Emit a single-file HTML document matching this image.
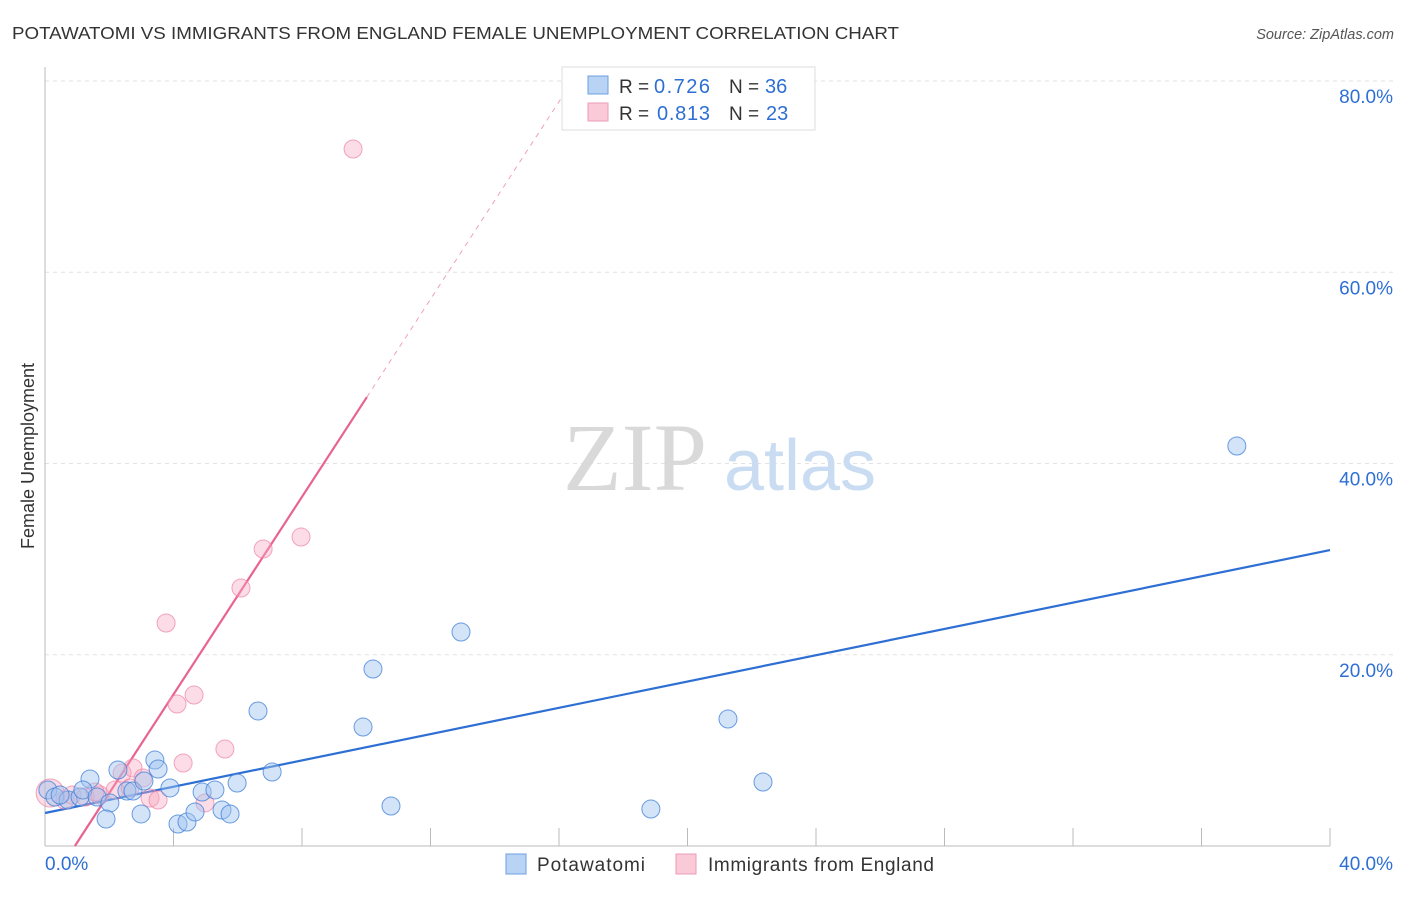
<!DOCTYPE html>
<html><head><meta charset="utf-8"><style>
body{margin:0;background:#fff;font-family:"Liberation Sans",sans-serif;}
</style></head><body>
<svg width="1406" height="892" xmlns="http://www.w3.org/2000/svg">
<text x="12" y="39" font-size="17.5" fill="#333" textLength="887" lengthAdjust="spacingAndGlyphs">POTAWATOMI VS IMMIGRANTS FROM ENGLAND FEMALE UNEMPLOYMENT CORRELATION CHART</text>
<text x="1394" y="39" font-size="14.5" fill="#555" text-anchor="end" font-style="italic">Source: ZipAtlas.com</text>
<g id="grid"></g>
<text x="635" y="490" font-size="96" fill="#d9d9d9" font-family="Liberation Serif,serif" text-anchor="middle">ZIP</text>
<text x="800" y="490" font-size="72" fill="#c9dcf2" text-anchor="middle">atlas</text>
<text transform="translate(34,456) rotate(-90)" font-size="18" fill="#333" text-anchor="middle">Female Unemployment</text>
<g id="lines"></g>
<g id="pts"></g>
<g>
<rect x="562" y="67" width="253" height="63" fill="#fff" stroke="#ddd"/>
<rect x="588" y="76" width="20" height="18" fill="#b9d3f5" stroke="#6d9ee0"/>
<rect x="588" y="103" width="20" height="18" fill="#fbcad8" stroke="#ee9bb5"/>
<text x="619" y="93" font-size="19" fill="#333">R =</text>
<text x="654" y="93" font-size="20" fill="#2e6fd4" textLength="56">0.726</text>
<text x="729" y="93" font-size="19" fill="#333">N =</text>
<text x="765" y="93" font-size="20" fill="#2e6fd4">36</text>
<text x="619" y="120" font-size="19" fill="#333">R =</text>
<text x="657" y="120" font-size="20" fill="#2e6fd4" textLength="53">0.813</text>
<text x="729" y="120" font-size="19" fill="#333">N =</text>
<text x="766" y="120" font-size="20" fill="#2e6fd4">23</text>
</g>
<g>
<rect x="506" y="854" width="20" height="20" fill="#b9d3f5" stroke="#6d9ee0"/>
<text x="537" y="871" font-size="19" fill="#333" textLength="108">Potawatomi</text>
<rect x="676" y="854" width="20" height="20" fill="#fbcad8" stroke="#ee9bb5"/>
<text x="708" y="871" font-size="19" fill="#333" textLength="226">Immigrants from England</text>
</g>
</svg>
<script>
const blueX=[0.09,0.31,0.72,1.09,1.40,1.18,1.62,2.02,1.90,2.27,2.55,2.74,2.99,3.08,3.42,3.52,3.89,4.14,4.42,4.67,4.89,5.29,5.51,5.76,5.98,6.63,7.07,9.90,10.21,10.77,12.95,18.86,21.26,22.35,37.10,0.47];
const blueY=[5.86,5.12,4.81,5.12,7.01,5.86,5.12,4.50,2.82,7.95,5.75,5.75,3.35,6.80,8.99,8.05,6.07,2.30,2.51,3.56,5.65,5.86,3.76,3.35,6.59,14.12,7.74,12.44,18.51,4.18,22.38,3.87,13.28,6.69,41.83,5.33];
const pinkX=[0.16,0.62,0.84,1.25,1.71,2.18,2.40,2.74,3.05,3.27,3.52,3.77,4.11,4.30,4.64,4.98,5.60,6.10,6.79,7.97,9.59,2.65,1.56];
const pinkY=[5.54,4.81,5.33,5.12,5.33,5.86,7.63,8.16,7.11,5.02,4.81,23.32,14.85,8.68,15.79,4.50,10.14,26.98,31.06,32.31,72.89,6.07,5.65];
const yTicks=[20,40,60,80];
const blueLine=[3.45,30.95]; // y at x=0 and x=40
const pinkLine=[0.93,5.165]; // x-intercept, slope
const sx=v=>45+v*32.125, sy=v=>846-v*9.5625;
const NS='http://www.w3.org/2000/svg';
function mk(t,a,p){const e=document.createElementNS(NS,t);for(const k in a)e.setAttribute(k,a[k]);p.appendChild(e);return e;}
const g=document.getElementById('grid');
yTicks.forEach(t=>{
 const l=mk('line',{x1:45,x2:1394,y1:sy(t),y2:sy(t),stroke:'#e2e2e2','stroke-dasharray':'4,4'},g);
 
 
 const tx=mk('text',{x:1393,y:sy(t)+22,'font-size':19,fill:'#2e6fd4','text-anchor':'end'},g);
 tx.textContent=t.toFixed(1)+'%';
 
 
});
mk('line',{x1:45,x2:45,y1:67,y2:846,stroke:'#bbb'},g);
mk('line',{x1:45,x2:1330,y1:846,y2:846,stroke:'#bbb'},g);
for(let i=1;i<=10;i++){mk('line',{x1:sx(i*4),x2:sx(i*4),y1:828,y2:846,stroke:'#bbb'},g);}
const x0=mk('text',{x:45,y:870,'font-size':19,fill:'#2e6fd4'},g);x0.textContent='0.0%';


const x1=mk('text',{x:1393,y:870,'font-size':19,fill:'#2e6fd4','text-anchor':'end'},g);x1.textContent='40.0%';


const P=document.getElementById('pts');
pinkX.forEach((x,i)=>{const c=mk('circle',{cx:sx(x),cy:sy(pinkY[i]),r:i==0?14:9,fill:'rgba(247,168,192,0.4)',stroke:'rgba(236,130,165,0.7)','stroke-width':1},P);
 
 });
blueX.forEach((x,i)=>{const c=mk('circle',{cx:sx(x),cy:sy(blueY[i]),r:9,fill:'rgba(160,196,240,0.45)',stroke:'rgba(60,125,215,0.75)','stroke-width':1},P);
 
 });
const L=document.getElementById('lines');
const bl=mk('line',{x1:sx(0),y1:sy(blueLine[0]),x2:sx(40),y2:sy(blueLine[1]),stroke:'#2e6fd4','stroke-width':2.2},L);


const py=x=>pinkLine[1]*(x-pinkLine[0]);
const xe=10.02, xt=pinkLine[0]+81/pinkLine[1];
const pl=mk('line',{x1:sx(pinkLine[0]),y1:sy(0),x2:sx(xe),y2:sy(py(xe)),stroke:'#e8648f','stroke-width':2.2},L);


const pd=mk('line',{x1:sx(xe),y1:sy(py(xe)),x2:sx(xt),y2:sy(81),stroke:'#f0a0b8','stroke-width':1,'stroke-dasharray':'5,5'},L);


</script>
</body></html>
